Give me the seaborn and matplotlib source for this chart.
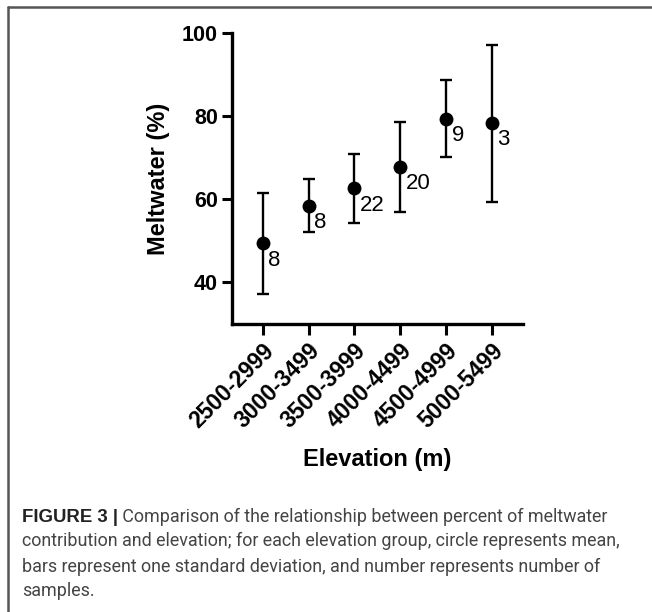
import matplotlib
matplotlib.use("Agg")
import matplotlib.pyplot as plt
import seaborn as sns
import pandas as pd
from matplotlib import font_manager
from matplotlib.lines import Line2D

# ---- data ----
elevation_groups = ["2500-2999", "3000-3499", "3500-3999", "4000-4499", "4500-4999", "5000-5499"]
meltwater_mean = [49.4, 58.5, 62.6, 67.8, 79.4, 78.3]
meltwater_sd = [12.2, 6.3, 8.4, 10.9, 9.2, 18.9]
sample_counts = [8, 8, 22, 20, 9, 3]
y_ticks = [40, 60, 80, 100]

caption_bold = "FIGURE 3 |"
caption_lines = [
    " Comparison of the relationship between percent of meltwater",
    "contribution and elevation; for each elevation group, circle represents mean,",
    "bars represent one standard deviation, and number represents number of",
    "samples.",
]

sns.set_style("ticks", {"axes.edgecolor": "black", "xtick.color": "black",
                        "ytick.color": "black", "text.color": "black",
                        "axes.labelcolor": "black"})
plt.rcParams["font.family"] = ["Liberation Sans", "DejaVu Sans"]

W, H = 652, 612
fig = plt.figure(figsize=(W / 100, H / 100), dpi=100)
fig.patch.set_facecolor("white")

# axes placement in pixels
L, R, T, B = 232, 523, 33, 324
ax = fig.add_axes([L / W, 1 - B / H, (R - L) / W, (B - T) / H])

df = pd.DataFrame({"group": elevation_groups, "mean": meltwater_mean,
                   "sd": meltwater_sd, "n": sample_counts})
xpos = list(range(len(elevation_groups)))

ax.errorbar(xpos, df["mean"], yerr=df["sd"], fmt="none", ecolor="black",
            elinewidth=1.7, capsize=4.2, capthick=1.7, zorder=2)
sns.scatterplot(data=df, x="group", y="mean", color="black", s=100,
                edgecolor="black", linewidth=0, ax=ax, zorder=3, legend=False)

for i, (m, n) in enumerate(zip(df["mean"], df["n"])):
    ax.annotate(str(n), (i, m), xytext=(4, -12), textcoords="offset points",
                ha="left", va="center", fontsize=16, color="black")

ax.set_xlim(-0.67, 5.68)
ax.set_ylim(30, 100)
ax.set_yticks(y_ticks)
ax.set_xticks(xpos)
ax.set_xticklabels(elevation_groups, rotation=45, ha="right",
                   rotation_mode="anchor", fontsize=16.5, fontweight="bold")
ax.tick_params(axis="y", labelsize=15.5, width=2.2, length=7, direction="out", pad=3,
               colors="black")
ax.tick_params(axis="x", width=2.2, length=8, direction="out", pad=3, colors="black")
for lab in ax.get_yticklabels():
    lab.set_fontweight("bold")
ax.set_ylabel("Meltwater (%)", fontsize=17, fontweight="bold", labelpad=9, color="black")
ax.set_xlabel("Elevation (m)", fontsize=17, fontweight="bold", labelpad=11, color="black")
sns.despine(ax=ax)
for s in ["left", "bottom"]:
    ax.spines[s].set_linewidth(2.4)
    ax.spines[s].set_color("black")
ax.set_facecolor("white")

# frame lines (top and left)
fig.add_artist(Line2D([7.5 / W, 1], [1 - 6.5 / H, 1 - 6.5 / H], color="#555555", lw=1.8,
                      transform=fig.transFigure))
fig.add_artist(Line2D([7.5 / W, 7.5 / W], [0, 1 - 6.5 / H], color="#555555", lw=1.8,
                      transform=fig.transFigure))

# caption
cap_family = "Liberation Sans"
names = {f.name for f in font_manager.fontManager.ttflist}
for cand in ["Roboto", "Liberation Sans"]:
    if cand in names:
        cap_family = cand
        break
fs = 13.4
x0 = 22.5
baselines = [521.5, 546.5, 571.5, 596.5]
cap_color = "#444444"
renderer = fig.canvas.get_renderer()
tb = fig.text(x0 / W, 1 - baselines[0] / H, caption_bold, fontsize=fs, fontweight="bold",
              color="#222222", va="baseline", ha="left", family="Liberation Sans")
bb = tb.get_window_extent(renderer)
rest = fig.text(bb.x1 / W, 1 - baselines[0] / H, caption_lines[0], fontsize=fs,
                color=cap_color, va="baseline", ha="left", family=cap_family)
bb2 = rest.get_window_extent(renderer)
target = 611.5
scale = (target - bb.x1) / bb2.width
fs2 = fs * scale
rest.set_fontsize(fs2)
for line, yb in zip(caption_lines[1:], baselines[1:]):
    fig.text(x0 / W, 1 - yb / H, line, fontsize=fs2, color=cap_color,
             va="baseline", ha="left", family=cap_family)

fig.savefig("out.png", dpi=100, facecolor="white")
